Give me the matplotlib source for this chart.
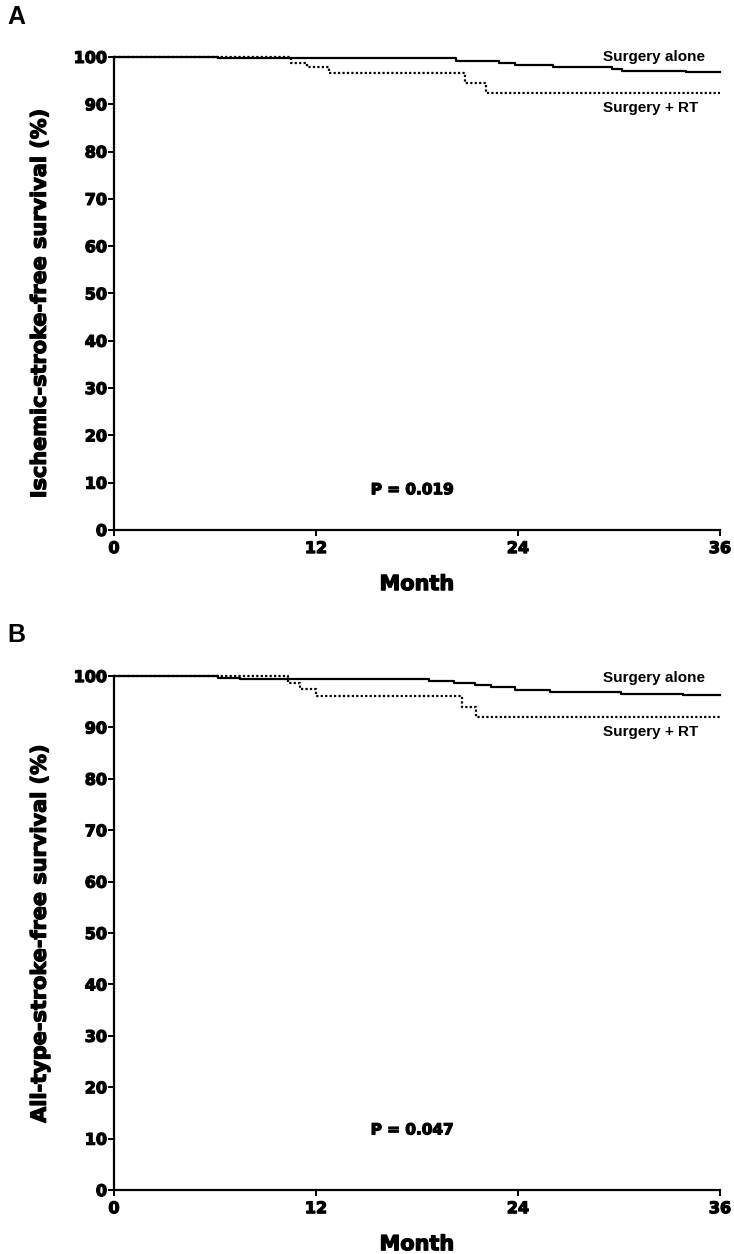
import matplotlib.pyplot as plt
import matplotlib.patheffects as pe

plt.rcParams['font.family'] = ['DejaVu Sans']

# Kaplan-Meier step points (month, % survival)
a_alone_t = [0, 6.2, 20.3, 22.9, 23.8, 26.1, 29.6, 30.2, 34.0, 36]
a_alone_s = [100, 99.7, 99.2, 98.7, 98.2, 97.8, 97.4, 97.1, 96.8, 96.8]
a_rt_t = [0, 10.5, 11.45, 12.8, 20.85, 22.1, 36]
a_rt_s = [100, 98.8, 97.9, 96.5, 94.4, 92.3, 92.3]

b_alone_t = [0, 6.2, 7.5, 18.7, 20.2, 21.45, 22.4, 23.8, 25.9, 30.1, 33.8, 36]
b_alone_s = [100, 99.55, 99.35, 99.0, 98.6, 98.25, 97.9, 97.3, 96.95, 96.6, 96.4, 96.4]
b_rt_t = [0, 10.36, 11.05, 12.0, 20.65, 21.5, 36]
b_rt_s = [100, 98.6, 97.4, 96.2, 94.0, 92.1, 92.1]

x_ticks = [0, 12, 24, 36]
y_ticks = list(range(0, 101, 10))

panels = [
    ('A', 'Ischemic-stroke-free survival (%)', 'P = 0.019',
     (a_alone_t, a_alone_s), (a_rt_t, a_rt_s), [0.1553, 0.5774, 0.8256, 0.3772], 8.5, 0.48, 17),
    ('B', 'All-type-stroke-free survival (%)', 'P = 0.047',
     (b_alone_t, b_alone_s), (b_rt_t, b_rt_s), [0.1553, 0.0510, 0.8256, 0.4099], 11.7, 0.50, 635),
]

heavy = [pe.withStroke(linewidth=0.9, foreground='black')]

fig = plt.figure(figsize=(7.34, 12.54), dpi=100)

for letter, ylab, pval, alone, rt, pos, p_y, ylab_y, top_px in panels:
    ax = fig.add_axes(pos)
    ax.step(alone[0], alone[1], where='post', color='black', lw=1.6, clip_on=False)
    ax.step(rt[0], rt[1], where='post', color='black', lw=1.6,
            linestyle=(0, (1, 1)), clip_on=False)

    ax.set_xlim(0, 36)
    ax.set_ylim(0, 100)
    ax.set_xticks(x_ticks)
    ax.set_yticks(y_ticks)
    for sp in ['top', 'right']:
        ax.spines[sp].set_visible(False)
    for sp in ['left', 'bottom']:
        ax.spines[sp].set_linewidth(1.6)
    ax.tick_params(direction='out', width=1.4, length=4, labelsize=11.5, pad=1)
    ax.tick_params(axis='x', pad=4)
    for lab in ax.get_xticklabels() + ax.get_yticklabels():
        lab.set_fontweight('bold')
        lab.set_path_effects(heavy)

    ax.set_xlabel('Month', fontsize=15, fontweight='bold', labelpad=13,
                  path_effects=heavy)
    ax.set_ylabel(ylab, fontsize=15, fontweight='bold', path_effects=heavy)
    ax.yaxis.set_label_coords(-0.106, ylab_y)

    ax.text(32.1, alone[1][-1] + 3.2, 'Surgery alone', ha='center', va='center',
            fontsize=11, fontweight='bold', family='Liberation Sans')
    ax.text(31.9, 89.2, 'Surgery + RT', ha='center', va='center',
            fontsize=11, fontweight='bold', family='Liberation Sans')
    ax.text(17.7, p_y, pval, ha='center', va='center', fontsize=11,
            fontweight='bold', path_effects=heavy)

    fig.text(7 / 734, 1 - top_px / 1254, letter, ha='left', va='center',
             fontsize=18, fontweight='bold', family='Liberation Sans')

fig.savefig('out.png', dpi=100)
